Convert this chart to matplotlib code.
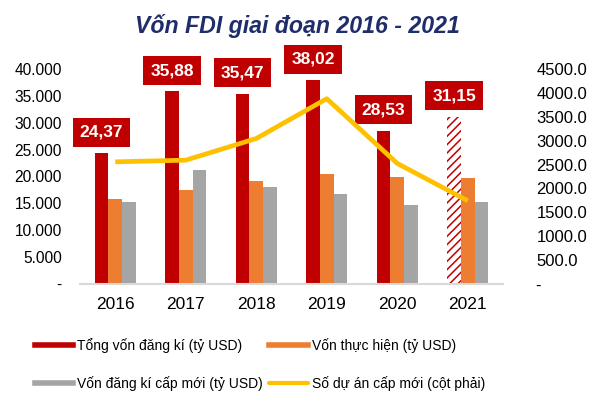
import matplotlib
matplotlib.use('Agg')
import matplotlib.pyplot as plt
import numpy as np
from matplotlib.lines import Line2D
from matplotlib.ticker import FuncFormatter

plt.rcParams['font.family'] = ['Liberation Sans', 'DejaVu Sans']
plt.rcParams['hatch.linewidth'] = 1.1

# ---- data ----
years = ['2016', '2017', '2018', '2019', '2020', '2021']
von_dang_ki = [24370, 35880, 35470, 38020, 28530, 31150]    # Tổng vốn đăng kí
von_thuc_hien = [15800, 17500, 19100, 20380, 19980, 19740]  # Vốn thực hiện
von_cap_moi = [15180, 21270, 17970, 16750, 14650, 15250]    # Vốn đăng kí cấp mới
so_du_an = [2556, 2591, 3046, 3883, 2523, 1738]             # Số dự án cấp mới
nhan = ['24,37', '35,88', '35,47', '38,02', '28,53', '31,15']

c_red = '#C00000'
c_orange = '#ED7D31'
c_gray = '#A5A5A5'
c_yellow = '#FFC000'

fig = plt.figure(figsize=(5.97, 3.95), dpi=100)
ax1 = fig.add_axes([80/597, 1-283.5/395, 423/597, 214.2/395])
ax2 = ax1.twinx()

x = np.arange(len(years))
w = 0.194

# tong von dang ki, nam 2021 la cot gach cheo
for i in range(len(years)):
    if i == len(years) - 1:
        ax1.bar(x[i] - w, von_dang_ki[i], w, facecolor='white', edgecolor=c_red,
                hatch='////', linewidth=0)
    else:
        ax1.bar(x[i] - w, von_dang_ki[i], w, color=c_red, linewidth=0)
ax1.bar(x, von_thuc_hien, w, color=c_orange, linewidth=0)
ax1.bar(x + w, von_cap_moi, w, color=c_gray, linewidth=0)

# nhan gia tri
for i in range(len(years)):
    ax1.annotate(nhan[i], xy=(x[i] - w, von_dang_ki[i]), xytext=(0, 15),
                 textcoords='offset points', ha='center', va='center',
                 color='white', fontsize=12.5, fontweight='bold', annotation_clip=False,
                 bbox=dict(boxstyle='square,pad=0.4', fc=c_red, ec='none'))

ax2.plot(x, so_du_an, color=c_yellow, linewidth=3.4, solid_capstyle='butt', zorder=5)

ax1.set_xlim(-0.5, 5.5)
ax1.set_ylim(0, 40000)
ax2.set_ylim(0, 4500)
ax1.set_yticks(np.arange(0, 40001, 5000))
ax2.set_yticks(np.arange(0, 4501, 500))

def fmt_left(v, pos):
    if v == 0:
        return '-'
    return '{:,.0f}'.format(v).replace(',', '.')

def fmt_right(v, pos):
    if v == 0:
        return '-   '
    return '%.1f' % v

ax1.yaxis.set_major_formatter(FuncFormatter(fmt_left))
ax2.yaxis.set_major_formatter(FuncFormatter(fmt_right))
ax1.set_xticks(x)
ax1.set_xticklabels(years)

ax1.tick_params(axis='y', length=0, labelsize=11.2, pad=13)
ax2.tick_params(axis='y', length=0, labelsize=12, pad=24)
ax1.tick_params(axis='x', length=0, labelsize=12.5, pad=10)

for ax in (ax1, ax2):
    for s in ['top', 'left', 'right', 'bottom']:
        ax.spines[s].set_visible(False)
ax1.spines['bottom'].set_visible(True)
ax1.spines['bottom'].set_color('#D9D9D9')
ax1.spines['bottom'].set_linewidth(1.5)

fig.text(0.499, 1 - 26/395, 'Vốn FDI giai đoạn 2016 - 2021', ha='center', va='center',
         fontsize=16.7, fontweight='bold', fontstyle='italic', color='#1F2D6B')

handles = [Line2D([], [], color=c_red, lw=4),
           Line2D([], [], color=c_gray, lw=4),
           Line2D([], [], color=c_orange, lw=4),
           Line2D([], [], color=c_yellow, lw=3, solid_capstyle='round')]
labels = ['Tổng vốn đăng kí (tỷ USD)', 'Vốn đăng kí cấp mới (tỷ USD)',
          'Vốn thực hiện (tỷ USD)', 'Số dự án cấp mới (cột phải)']
fig.legend(handles, labels, ncol=2, loc='upper left', bbox_to_anchor=(35/597, 1 - 338/395),
           frameon=False, fontsize=10, handlelength=2.75, handletextpad=0.3,
           columnspacing=0.45, labelspacing=1.65, borderpad=0, borderaxespad=0)

fig.savefig('out.png', dpi=100)
